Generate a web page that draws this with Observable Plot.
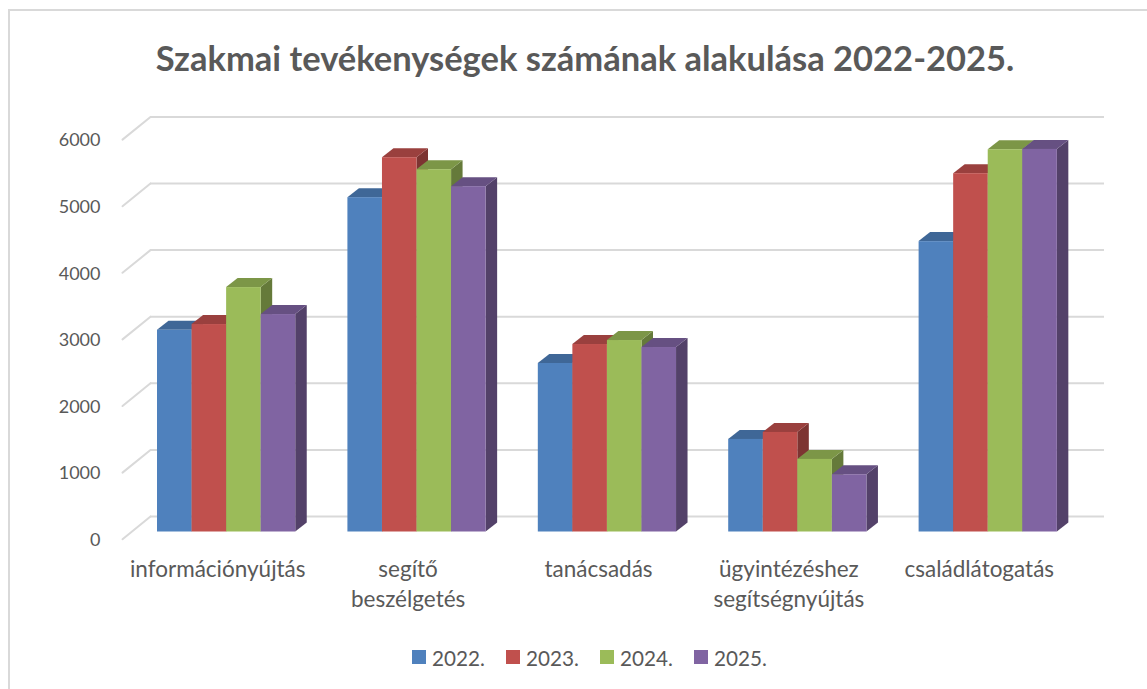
<!DOCTYPE html>
<html lang="hu">
<head>
<meta charset="utf-8">
<script src="https://cdn.jsdelivr.net/npm/d3@7"></script>
<script src="https://cdn.jsdelivr.net/npm/@observablehq/plot@0.6"></script>
<style>
  html, body { margin: 0; background: #fff; }
  #page { position: relative; width: 1147px; height: 689px; overflow: hidden; font-family: Lato, "Open Sans", sans-serif; color: #595959; }
  #frame { position: absolute; left: 8px; top: 9px; width: 1200px; height: 800px; border: 2px solid #d9d9d9; box-sizing: border-box; }
  #title { position: absolute; left: 0; top: 36px; width: 1170px; text-align: center; font-size: 34.5px; font-weight: 700; line-height: 44px; white-space: nowrap; }
  #chart { position: absolute; left: 0; top: 90px; }
  #legend { position: absolute; top: 646px; left: 412px; display: flex; font-size: 20.7px; line-height: 24px; }
  #legend .item { display: flex; align-items: center; width: 94px; }
  #legend .sw { width: 14px; height: 14px; margin-right: 6px; position: relative; top: -1px; }
</style>
</head>
<body>
<div id="page">
  <div id="frame"></div>
  <div id="title">Szakmai tevékenységek számának alakulása 2022-2025.</div>
  <div id="chart"></div>
  <div id="legend"></div>
</div>
<script>
const categories = ["információnyújtás", "segítő\nbeszélgetés", "tanácsadás", "ügyintézéshez\nsegítségnyújtás", "családlátogatás"];
const years = ["2022.", "2023.", "2024.", "2025."];
const values2022 = [3030, 5020, 2530, 1390, 4360];
const values2023 = [3115, 5620, 2815, 1495, 5380];
const values2024 = [3670, 5440, 2875, 1090, 5740];
const values2025 = [3265, 5185, 2770, 860, 5745];
const colors = ["#4F81BD", "#C0504D", "#9BBB59", "#8064A2"];
const yTicks = [0, 1000, 2000, 3000, 4000, 5000, 6000];

const series = [values2022, values2023, values2024, values2025];
const groupPad = 0.1366, barWidth = 0.1815;
const rows = categories.flatMap((category, c) =>
  years.map((year, s) => ({
    year,
    x1: c + groupPad + s * barWidth,
    x2: c + groupPad + (s + 1) * barWidth,
    value: series[s][c]
  })));
const categoryTicks = categories.map((_, c) => c + 0.5);

const depthX = 11.5, depthY = -9;
const gridColor = "#d9d9d9";

// Add the oblique top and side faces to each bar that Plot has drawn.
function extrude(index, scales, values, dims, ctx, next) {
  const g = next(index, scales, values, dims, ctx);
  for (const rect of g.querySelectorAll("rect")) {
    const x = +rect.getAttribute("x"), y = +rect.getAttribute("y");
    const w = +rect.getAttribute("width"), h = +rect.getAttribute("height");
    const fill = rect.getAttribute("fill");
    const face = (k, pts) => {
      const p = document.createElementNS("http://www.w3.org/2000/svg", "polygon");
      const c = d3.rgb(fill);
      p.setAttribute("fill", d3.rgb(c.r * k, c.g * k, c.b * k).formatHex());
      p.setAttribute("points", pts.map((q) => q.join(",")).join(" "));
      g.insertBefore(p, rect);
    };
    face(0.65, [[x + w, y], [x + w + depthX, y + depthY], [x + w + depthX, y + h + depthY], [x + w, y + h]]);
    face(0.8, [[x, y], [x + depthX, y + depthY], [x + w + depthX, y + depthY], [x + w, y]]);
  }
  return g;
}

const line = {draw(context, l) { context.moveTo(0, 0); context.lineTo(0, -l); }};

const plot = Plot.plot({
  width: 1147,
  height: 540,
  marginLeft: 122,
  marginRight: 73,
  marginTop: 41.9,
  marginBottom: 98.5,
  style: {background: "transparent", fontFamily: "Lato, 'Open Sans', sans-serif", color: "#595959"},
  x: {domain: [0, categories.length], label: null},
  y: {domain: [0, 6000], label: null},
  color: {domain: years, range: colors},
  marks: [
    Plot.ruleY(yTicks, {y: (d) => d, stroke: gridColor, strokeWidth: 2, dx: 28, dy: -15.5, insetRight: -2}),
    Plot.vector(yTicks, {x: () => 0, y: (d) => d, dy: 7.2, rotate: 51, length: 36, anchor: "start", shape: line, stroke: gridColor, strokeWidth: 2}),
    Plot.axisY({ticks: yTicks, tickSize: 0, tickPadding: 22, dy: 8.2, label: null, fontSize: 18, tickFormat: (d) => String(d)}),
    Plot.axisX({ticks: categoryTicks, tickSize: 0, tickPadding: 24, fontSize: 22.5, lineHeight: 1.33, label: null, tickFormat: (d) => categories[d - 0.5]}),
    Plot.rect(rows, {x1: "x1", x2: "x2", y1: 0, y2: "value", fill: "year", dx: 9, render: extrude})
  ]
});
document.getElementById("chart").append(plot);

const legend = document.getElementById("legend");
years.forEach((year, i) => {
  const item = document.createElement("div");
  item.className = "item";
  const sw = document.createElement("span");
  sw.className = "sw";
  sw.style.background = colors[i];
  const label = document.createElement("span");
  label.textContent = year;
  item.append(sw, label);
  legend.append(item);
});
</script>
</body>
</html>
